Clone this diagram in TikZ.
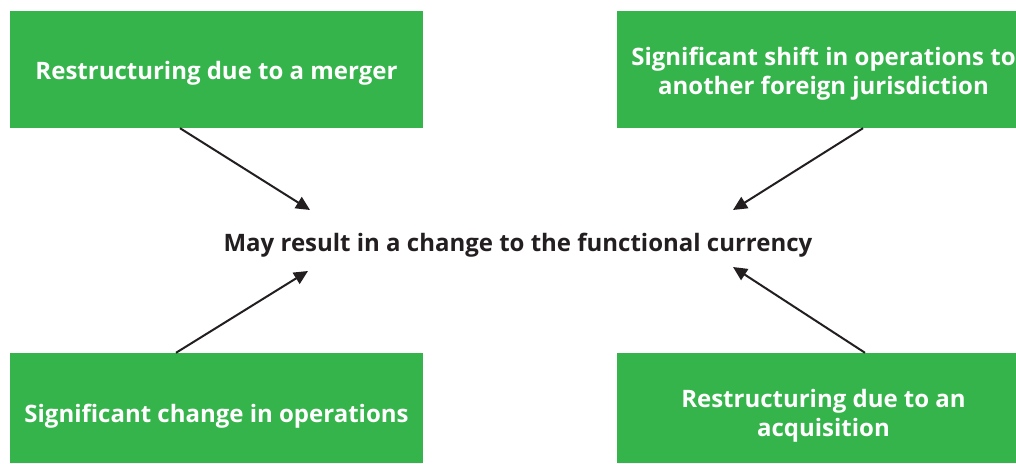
\documentclass[tikz,border=0pt]{standalone}
\usepackage{fontspec}
\setmainfont{Open Sans}
\usetikzlibrary{arrows.meta,calc}
\definecolor{boxgreen}{HTML}{34B44A}
\definecolor{inkdark}{HTML}{231F20}
\tikzset{
  greenbox/.style={fill=boxgreen, draw=none, inner sep=0pt, text=white,
    font=\fontsize{24}{29.5}\selectfont\bfseries, align=center},
  arr/.style={draw=inkdark, line width=2pt, -{Triangle[length=14pt,width=13pt]}}
}
\begin{document}
\begin{tikzpicture}[x=1pt,y=1pt]
\useasboundingbox (0,0) rectangle (1016,463);
\node[greenbox, minimum width=413pt, minimum height=117pt] (tl) at (216.5,393.5) {};
\node[greenbox, minimum width=399pt, minimum height=117pt] (tr) at (816.5,393.5) {};
\node[greenbox, minimum width=413pt, minimum height=110pt] (bl) at (216.5,55) {};
\node[greenbox, minimum width=399pt, minimum height=110pt] (br) at (816.5,55) {};
\node[greenbox, fill=none] (tltxt) at ($(tl.center)+(0,-4)$) {Restructuring due to a merger};
\node[greenbox, fill=none] (trtxt) at ($(tr.center)+(7,-4)$) {Significant shift in operations to\\another foreign jurisdiction};
\node[greenbox, fill=none] (bltxt) at ($(bl.center)+(0,-8)$) {Significant change in operations};
\node[greenbox, fill=none] (brtxt) at ($(br.center)+(7,-8)$) {Restructuring due to an\\acquisition};
\node[text=inkdark, font=\fontsize{24}{28}\selectfont\bfseries, inner sep=0pt] (mid) at (518,218) {May result in a change to the functional currency};
\coordinate (tltip) at (310,253);
\coordinate (trtip) at (733,253);
\coordinate (bltip) at (308,192);
\coordinate (brtip) at (733,196);
\draw[arr] (tl.south -| 180,0) -- (tltip);
\draw[arr] (tr.south -| 863,0) -- (trtip);
\draw[arr] (bl.north -| 176,0) -- (bltip);
\draw[arr] (br.north -| 865,0) -- (brtip);
\end{tikzpicture}
\end{document}
